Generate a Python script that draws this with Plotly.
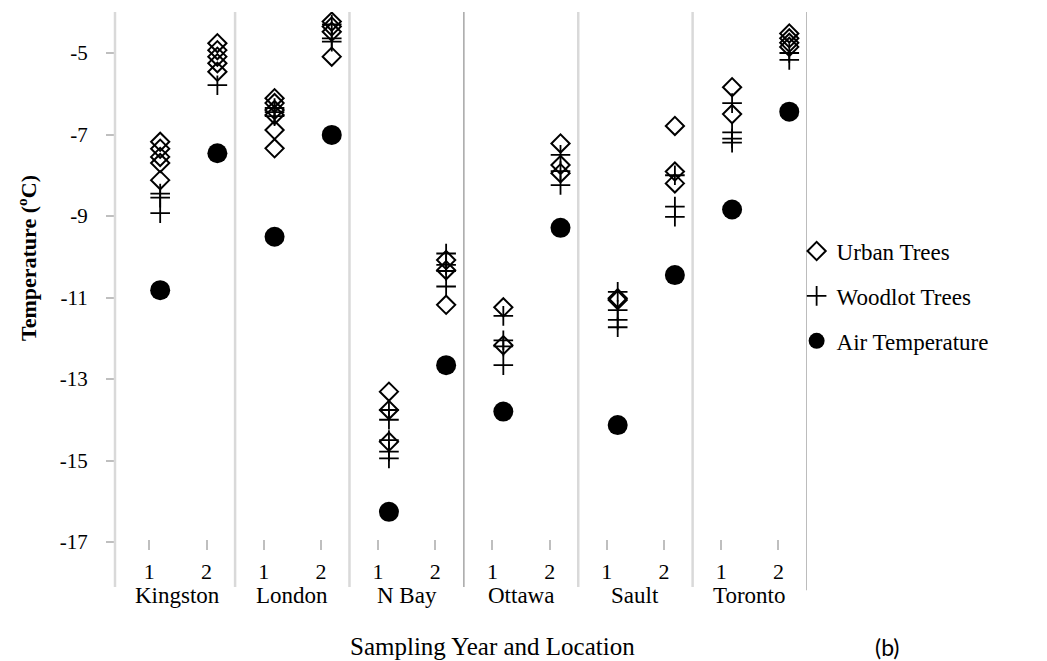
import numpy as np
import plotly.graph_objects as go

# Sampling locations and the two sampling years per location
locations = ["Kingston", "London", "N Bay", "Ottawa", "Sault", "Toronto"]
years = ["1", "2"]

# Stem temperatures (°C) per location/year, in order Kingston 1, Kingston 2, London 1, ...
urban_trees = [
    [-7.18, -7.35, -7.55, -7.70, -8.12],
    [-4.76, -4.93, -5.09, -5.25, -5.46],
    [-6.11, -6.23, -6.40, -6.52, -6.89, -7.34],
    [-4.23, -4.35, -4.48, -5.09],
    [-13.31, -13.76, -14.54],
    [-10.08, -10.33, -11.18],
    [-11.24, -12.17],
    [-7.22, -7.75, -7.95],
    [-11.02, -11.06],
    [-6.79, -7.91, -8.20],
    [-5.84, -6.50],
    [-4.52, -4.64, -4.75, -4.85],
]
woodlot_trees = [
    [-8.45, -8.55, -8.93],
    [-5.79],
    [-6.35, -6.45, -6.55],
    [-4.30, -4.64, -4.72],
    [-13.76, -14.00, -14.50, -14.78, -14.95],
    [-9.92, -10.20, -10.35, -10.73],
    [-11.45, -12.05, -12.20, -12.66],
    [-7.50, -7.90, -8.24],
    [-10.86, -11.31, -11.55, -11.73],
    [-8.00, -8.77, -9.02],
    [-6.23, -6.95, -7.10, -7.20],
    [-5.00, -5.17],
]
air_temperature = [-10.82, -7.46, -9.51, -7.01, -16.26, -12.66,
                   -13.80, -9.29, -14.13, -10.45, -8.84, -6.44]
y_ticks = [-5, -7, -9, -11, -13, -15, -17]

SERIF = "Liberation Serif, Times New Roman, serif"
n_cat = len(locations) * len(years)
cat_pos = np.arange(n_cat)
shift = 0.19  # markers sit a little right of the category centre


def flatten(groups):
    xs, ys = [], []
    for i, vals in enumerate(groups):
        xs += [i + shift] * len(vals)
        ys += list(vals)
    return xs, ys


fig = go.Figure()

ux, uy = flatten(urban_trees)
wx, wy = flatten(woodlot_trees)

fig.add_trace(go.Scatter(
    x=ux, y=uy, mode="markers", name="Urban Trees", legendgroup="u",
    marker=dict(symbol="diamond-open", size=14, color="black", line=dict(width=2, color="black")),
))
fig.add_trace(go.Scatter(
    x=wx, y=wy, mode="markers", name="Woodlot Trees", legendgroup="w",
    marker=dict(symbol="cross-thin-open", size=14, color="black", line=dict(width=1.8, color="black")),
))
fig.add_trace(go.Scatter(
    x=cat_pos + shift, y=air_temperature, mode="markers", name="Air Temperature", legendgroup="a",
    marker=dict(symbol="circle", size=20, color="black"),
))

# vertical axis line and group separators
x_lo, x_hi = -0.6, n_cat - 0.5
y_lo, y_hi = -17.196, -3.994
shapes = []
light = dict(color="#d9d9d9", width=2.5)
dark = dict(color="#a6a6a6", width=1.5)
shapes.append(dict(type="line", xref="paper", yref="paper", x0=0, x1=0, y0=-0.069, y1=1, line=light))
for g in range(1, len(locations) + 1):
    xv = 2 * g - 0.5
    style = dark if g in (3, 6) else light
    shapes.append(dict(type="line", xref="x", yref="paper", x0=xv, x1=xv,
                       y0=-0.075 if g == 6 else -0.069, y1=1, line=style))

annotations = []
for g, loc in enumerate(locations):
    annotations.append(dict(x=2 * g + 0.5, y=-0.085, xref="x", yref="paper", text=loc,
                            showarrow=False, xanchor="center", yanchor="middle",
                            font=dict(family=SERIF, size=23, color="black")))
annotations.append(dict(x=0.545, y=-0.18, xref="paper", yref="paper", text="Sampling Year and Location",
                        showarrow=False, xanchor="center", yanchor="middle",
                        font=dict(family=SERIF, size=25, color="black")))
annotations.append(dict(x=1.116, y=-0.18, xref="paper", yref="paper", text="(b)",
                        showarrow=False, xanchor="center", yanchor="middle",
                        font=dict(family="Lato, sans-serif", size=23, color="black")))
annotations.append(dict(x=-0.127, y=0.543, xref="paper", yref="paper",
                        text="<b>Temperature (<sup>o</sup>C)</b>", textangle=-90,
                        showarrow=False, xanchor="center", yanchor="middle",
                        font=dict(family=SERIF, size=22, color="black")))

fig.update_layout(
    width=1047, height=661,
    margin=dict(l=115, r=240, t=12, b=111),
    paper_bgcolor="white", plot_bgcolor="white",
    showlegend=True,
    legend=dict(x=0.985, y=0.472, xanchor="left", yanchor="middle",
                font=dict(family=SERIF, size=23, color="black"),
                tracegroupgap=12, bgcolor="rgba(0,0,0,0)"),
    shapes=shapes, annotations=annotations,
    xaxis=dict(range=[x_lo, x_hi], tickvals=list(cat_pos), ticktext=years * len(locations),
               showgrid=False, zeroline=False, showline=False,
               ticks="inside", ticklen=10, tickwidth=1.5, tickcolor="#bfbfbf",
               ticklabelstandoff=6,
               tickfont=dict(family=SERIF, size=22, color="black")),
    yaxis=dict(range=[y_lo, y_hi], tickvals=y_ticks, ticktext=[str(v) for v in y_ticks],
               showgrid=False, zeroline=False, showline=False,
               ticks="outside", ticklen=8, tickwidth=1.5, tickcolor="#bfbfbf",
               ticklabelstandoff=14,
               tickfont=dict(family=SERIF, size=21, color="black")),
)

fig.write_html("out.html")
